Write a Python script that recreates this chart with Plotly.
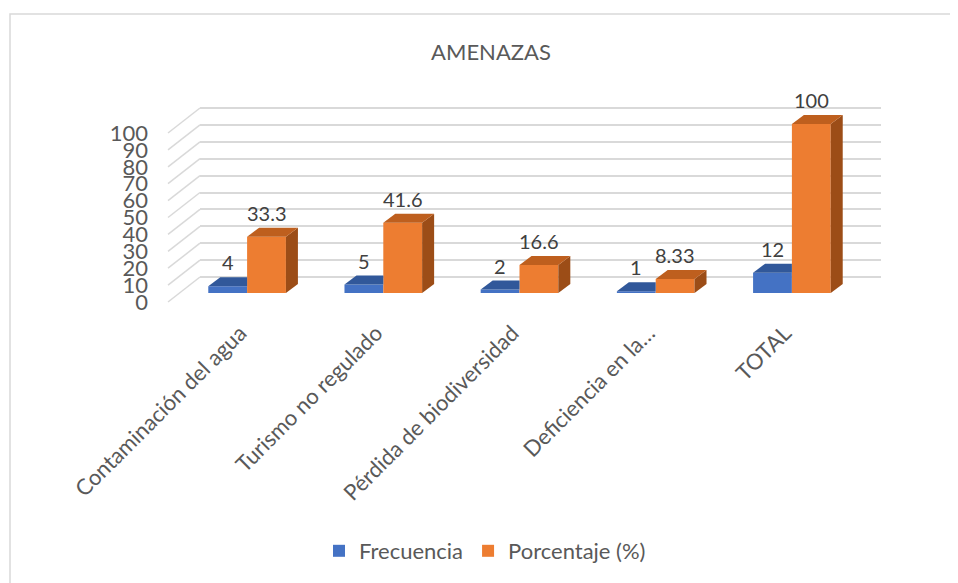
import plotly.graph_objects as go

# ---------------- data ----------------
categories = ["Contaminación del agua", "Turismo no regulado", "Pérdida de biodiversidad",
              "Deficiencia en la…", "TOTAL"]
frecuencia = [4, 5, 2, 1, 12]
porcentaje = [33.3, 41.6, 16.6, 8.33, 100]
y_ticks = [0, 10, 20, 30, 40, 50, 60, 70, 80, 90, 100]
series_names = ["Frecuencia", "Porcentaje (%)"]
title_text = "AMENAZAS"

# ---------------- geometry / style ----------------
W, H = 958, 583
PAGE_OFF = 8            # body margin of the html page
FONT = "Lato"
TXT = "#595959"
LBL = "#404040"
BLUE, BLUE_TOP = "#4472C4", "#31589A"
ORANGE, ORANGE_TOP, ORANGE_SIDE = "#ED7D31", "#BE5F1E", "#9C4D17"
GRID = "#D9D9D9"

def pxx(p):
    return (p - PAGE_OFF) / W

def pxy(p):
    return (H - (p - PAGE_OFF)) / H

SCALE = 1.69            # pixels per unit on the value axes
BAR_ZERO = 293          # pixel row of value 0 on the bar (front) plane
BAR_YMAX = 112
BAR_X0, BAR_X1 = 179, 860
WALL_ZERO = 277         # pixel row of value 0 on the back wall
WALL_X0, WALL_X1 = 200, 881
FRONT_X = 168           # left-front edge of the side wall
FRONT_ZERO = 302
BARGAP = 0.43
bw = (1 - BARGAP) / 2   # bar width in data units
offsets = [-bw / 2, bw / 2]
DX = 12 / ((BAR_X1 - BAR_X0) / len(categories))   # depth in data units (x)
DY = 9 / SCALE                                      # depth in data units (y)

xs = list(range(len(categories)))

fig = go.Figure()

# empty trace to create the back-wall subplot
fig.add_trace(go.Scatter(x=[], y=[], xaxis="x", yaxis="y", showlegend=False, hoverinfo="skip"))

fig.add_trace(go.Bar(x=xs, y=frecuencia, name=series_names[0], marker=dict(color=BLUE, line=dict(width=0)),
                     xaxis="x2", yaxis="y2"))
fig.add_trace(go.Bar(x=xs, y=porcentaje, name=series_names[1], marker=dict(color=ORANGE, line=dict(width=0)),
                     xaxis="x2", yaxis="y2"))

shapes = []
annotations = []
for s, vals in enumerate([frecuencia, porcentaje]):
    for i, v in zip(xs, vals):
        c = i + offsets[s]
        L, R = c - bw / 2, c + bw / 2
        if s == 0:
            top = f"M{L},{v} L{L+DX},{v+DY} L{R},{v+DY} L{R},{v} Z"
            shapes.append(dict(type="path", path=top, xref="x2", yref="y2",
                               fillcolor=BLUE_TOP, line=dict(width=0), layer="above"))
        else:
            top = f"M{L},{v} L{L+DX},{v+DY} L{R+DX},{v+DY} L{R},{v} Z"
            side = f"M{R},{v} L{R+DX},{v+DY} L{R+DX},{DY} L{R},0 Z"
            shapes.append(dict(type="path", path=side, xref="x2", yref="y2",
                               fillcolor=ORANGE_SIDE, line=dict(width=0), layer="above"))
            shapes.append(dict(type="path", path=top, xref="x2", yref="y2",
                               fillcolor=ORANGE_TOP, line=dict(width=0), layer="above"))
        annotations.append(dict(x=c, y=v, xref="x2", yref="y2", text=f"{v:g}", showarrow=False,
                                yshift=24, font=dict(family=FONT, size=20, color=LBL)))

# side-wall gridlines (slanted connectors)
for t in y_ticks:
    shapes.append(dict(type="line", xref="paper", yref="paper",
                       x0=pxx(FRONT_X), y0=pxy(FRONT_ZERO - SCALE * t),
                       x1=pxx(WALL_X0), y1=pxy(WALL_ZERO - SCALE * t),
                       line=dict(color=GRID, width=1.5), layer="below"))

# chart border
shapes.append(dict(type="rect", xref="paper", yref="paper", x0=pxx(10), y0=pxy(14), x1=pxx(990), y1=pxy(620),
                   line=dict(color=GRID, width=1.5), fillcolor="rgba(0,0,0,0)", layer="below"))

fig.update_layout(
    template="none",
    width=W, height=H,
    autosize=False,
    margin=dict(l=0, r=0, t=0, b=0, pad=0, autoexpand=False),
    paper_bgcolor="white", plot_bgcolor="rgba(0,0,0,0)",
    barmode="group", bargap=BARGAP, bargroupgap=0,
    font=dict(family=FONT, color=TXT),
    title=dict(text=title_text, x=pxx(491), xanchor="center", y=pxy(52), yanchor="middle",
               xref="paper", yref="paper", automargin=False,
               font=dict(family=FONT, size=22, color=TXT)),
    showlegend=True,
    legend=dict(orientation="h", x=pxx(485), xanchor="center", y=pxy(551), yanchor="middle",
                font=dict(family=FONT, size=22, color=TXT), traceorder="normal",
                bgcolor="rgba(0,0,0,0)"),
    xaxis=dict(domain=[pxx(WALL_X0), pxx(WALL_X1)], range=[0, 1], anchor="y", automargin=False,
               showgrid=False, zeroline=False, showticklabels=False, showline=False, fixedrange=True),
    yaxis=dict(domain=[pxy(WALL_ZERO + SCALE * 1), pxy(WALL_ZERO - SCALE * 101)], range=[-1, 101], anchor="x",
               automargin=False, tickvals=y_ticks, showgrid=True, gridcolor=GRID, gridwidth=1.5,
               zeroline=False, showticklabels=False, showline=False, fixedrange=True),
    xaxis2=dict(domain=[pxx(BAR_X0), pxx(BAR_X1)], range=[-0.5, len(categories) - 0.5], anchor="y2",
                automargin=False, tickvals=xs, ticktext=categories, tickangle=-45, ticklabelstandoff=22,
                ticklabelshift=-7,
                tickfont=dict(family=FONT, size=22, color=TXT),
                showgrid=False, zeroline=False, showline=False, ticks=""),
    yaxis2=dict(domain=[pxy(BAR_ZERO), pxy(BAR_ZERO - SCALE * BAR_YMAX)], range=[0, BAR_YMAX], anchor="x2",
                automargin=False, tickvals=y_ticks, ticklabelshift=9, ticklabelstandoff=30,
                tickfont=dict(family=FONT, size=22, color=TXT),
                showgrid=False, zeroline=False, showline=False, ticks=""),
    shapes=shapes,
    annotations=annotations,
)

fig.write_html("out.html")
